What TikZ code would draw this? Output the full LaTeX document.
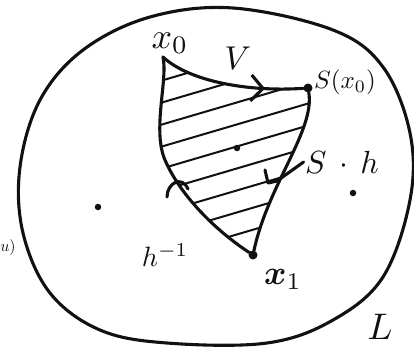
\documentclass[tikz,border=0pt]{standalone}
\usepackage{amsmath}
\usetikzlibrary{arrows.meta,decorations.markings}
\definecolor{ink}{HTML}{111111}

\begin{document}
\begin{tikzpicture}[x=1pt,y=-1pt,line cap=round,line join=round,
  stroke/.style={draw=ink,line width=3.1pt},
  hatch/.style={draw=ink,line width=2pt},
  vertex/.style={circle,fill=ink,inner sep=0pt,minimum size=9pt},
  speck/.style={circle,fill=ink,inner sep=0pt,minimum size=6.5pt},
  lbl/.style={text=ink,inner sep=0.3pt}]
  \useasboundingbox (0,0) rectangle (414,349);

  % the big region L
  \draw[stroke] plot[smooth cycle,tension=0.6] coordinates {(233,8) (333,30) (383,67) (410,133) (410,200) (383,277) (333,320) (267,343) (167,343) (100,330) (50,293) (23,233) (20,167) (40,100) (83,50) (150,17)};

  % corners of the hatched triangle
  \coordinate (x0) at (163,57);
  \node[vertex] (sx0) at (308,88) {};
  \node[vertex] (x1) at (253,255) {};
  \coordinate (bend) at (165,160);

  % hatching
  \begin{scope}
    \clip (x0) .. controls (190,82) and (250,92) .. (sx0.center) .. controls (315,130) and (268,185) .. (x1.center) .. controls (215,230) and (180,195) .. (bend) .. controls (152,130) and (168,80) .. (x0) -- cycle;
    \foreach \c in {62,84,...,300} {\draw[hatch] (150,\c) -- (320,\c-50);}
  \end{scope}

  % edges
  \draw[stroke,postaction={decorate},decoration={markings,mark=at position 0.74 with {\arrow{Straight Barb[length=12pt,width=26pt,line width=3.1pt]}}}] (x0) .. controls (190,82) and (250,92) .. (sx0);
  \draw[stroke] (sx0) .. controls (315,130) and (268,185) .. (x1);
  \draw[stroke] (x1) .. controls (215,230) and (180,195) .. (bend) .. controls (152,130) and (168,80) .. (x0);

  % small marks on the edges
  \draw[stroke] (167,197) .. controls (167,183) and (182,175) .. (188,189);
  \coordinate (tick) at (277,181);
  \draw[stroke] (265,170) -- (268,183) -- (tick);

  % labels
  \node[lbl,scale=3.6] (lblx0) at (170,43) {$x_0$};
  \node[lbl,scale=3.3] (lblv) at (238,58) {$V$};
  \node[lbl,scale=2.5] (lblsx) at (345,82) {$S(x_0)$};
  \node[lbl,scale=3.2] (lblsh) at (342,162) {$S\,\cdot\,h$};
  \node[lbl,scale=2.8] (lblh) at (165,255) {$h^{-1}$};
  \node[lbl,scale=3.4] (lblx1) at (283,279) {$\boldsymbol{x}_1$};
  \node[lbl,scale=3.7] (lblL) at (380,327) {$L$};
  \node[lbl,scale=1.6] (lblu) at (8,247) {$u)$};
  \draw[stroke] (tick) -- (lblsh.west);

  % points
  \node[speck] (p1) at (237,148) {};
  \node[speck] (p2) at (98,207) {};
  \node[speck] (p3) at (353,193) {};
\end{tikzpicture}
\end{document}
